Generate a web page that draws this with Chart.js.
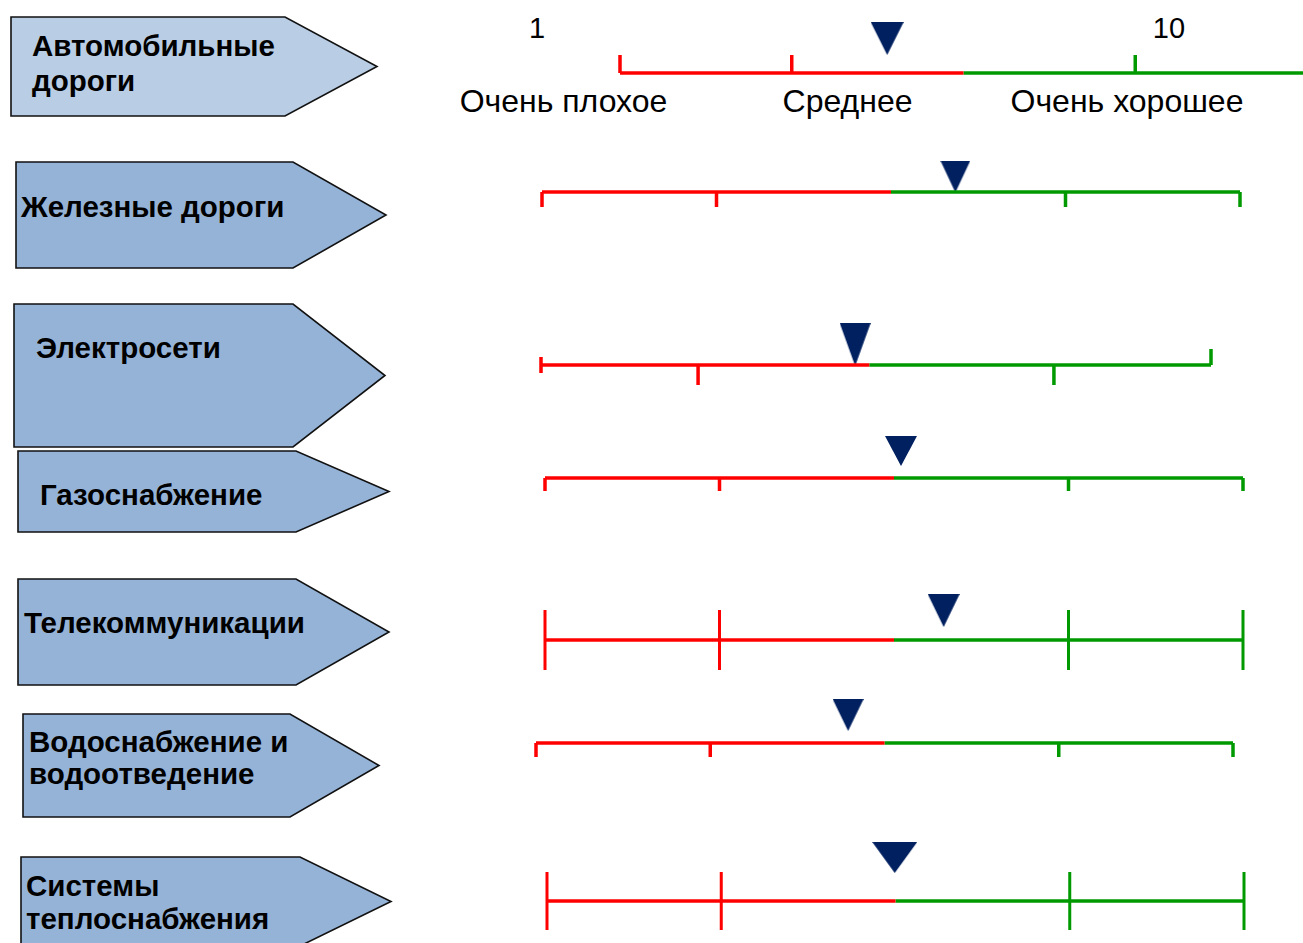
<!DOCTYPE html>
<html lang="ru">
<head>
<meta charset="UTF-8">
<title>Оценка состояния инфраструктуры</title>
<script src="https://cdn.jsdelivr.net/npm/chart.js"></script>
<style>
  html, body { margin: 0; padding: 0; background: #fff; }
  body {
    width: 1303px; height: 943px; overflow: hidden; position: relative;
    font-family: 'Liberation Sans', Arial, sans-serif; color: #000;
  }
  #arrows { position: absolute; left: 0; top: 0; }
  .label { position: absolute; font-weight: bold; font-size: 29.5px; white-space: pre; }
  .cap { position: absolute; font-size: 29px; line-height: 30px; white-space: nowrap; transform: translateX(-50%); }
  .cap.grade { font-size: 32px; }
  canvas.row { position: absolute; }
</style>
</head>
<body>
<svg id="arrows" width="1303" height="943"></svg>

<script>
// данные
const categories = [
  'Автомобильные\nдороги',
  'Железные дороги',
  'Электросети',
  'Газоснабжение',
  'Телекоммуникации',
  'Водоснабжение и\nводоотведение',
  'Системы\nтеплоснабжения'
];
const scores = [4.5, 6.33, 5.22, 5.59, 6.14, 5.03, 5.49];
const scaleMin = 1, scaleMax = 10;
const scaleTicks = [
  [1, 3.25, 7.75, 10],
  [1, 3.25, 7.75, 10],
  [1, 3.11, 7.89, 10],
  [1, 3.25, 7.75, 10],
  [1, 3.25, 7.75, 10],
  [1, 3.25, 7.75, 10],
  [1, 3.25, 7.75, 10]
];
const splitValues = [5.5, 5.5, 5.41, 5.5, 5.5, 5.5, 5.5];
const endLabels = ['1', '10'];
const gradeLabels = ['Очень плохое', 'Среднее', 'Очень хорошее'];

// раскладка
const PAD = 12, H = 140;
const RED = '#ff0000', GREEN = '#009a00', NAVY = '#002060';
const rows = [
  { start: 620, end: 1307, lineY: 73,  box: [11, 17, 285, 377, 116],  fill: '#b9cde5', tx: 32, ty: 45,  lh: 35,
    ticks: [[0, 18], [0, 18], [0, 18], [0, 18]], tw: 3.5, mw: 33, mh: 33, rise: 34.5 },
  { start: 542, end: 1240, lineY: 192, box: [16, 162, 293, 386, 268], fill: '#95b3d7', tx: 21, ty: 207, lh: 34,
    ticks: [[-15, 0], [-15, 0], [-15, 0], [-15, 0]], tw: 3.5, mw: 30, mh: 32, rise: 15.5 },
  { start: 541, end: 1211, lineY: 365, box: [14, 304, 293, 385, 447], fill: '#95b3d7', tx: 36, ty: 348, lh: 34,
    ticks: [[-8, 8], [-20, 0], [-20, 0], [0, 16]], tw: 3.5, mw: 31, mh: 43, rise: 20.5 },
  { start: 545, end: 1243, lineY: 478, box: [18, 451, 296, 389, 532], fill: '#95b3d7', tx: 40, ty: 495, lh: 34,
    ticks: [[-13, 0], [-13, 0], [-13, 0], [-13, 0]], tw: 3.5, mw: 32, mh: 30, rise: 27 },
  { start: 545, end: 1243, lineY: 640, box: [18, 579, 296, 389, 685], fill: '#95b3d7', tx: 24, ty: 623, lh: 34,
    ticks: [[-30, 30], [-30, 30], [-30, 30], [-30, 30]], tw: 3, mw: 32, mh: 33, rise: 29.5 },
  { start: 536, end: 1233, lineY: 743, box: [23, 714, 290, 379, 817], fill: '#95b3d7', tx: 29, ty: 742, lh: 32,
    ticks: [[-14, 0], [-14, 0], [-14, 0], [-14, 0]], tw: 3.5, mw: 31, mh: 32, rise: 28 },
  { start: 547, end: 1244, lineY: 901, box: [21, 857, 300, 391, 946], fill: '#95b3d7', tx: 26, ty: 885, lh: 33,
    ticks: [[-29, 29], [-29, 29], [-29, 29], [-29, 29]], tw: 3, mw: 45, mh: 31, rise: 43.5 }
];

// стрелки слева
const svg = document.getElementById('arrows');
rows.forEach(r => {
  const [x0, y0, xr, xt, y1] = r.box;
  const ym = (y0 + y1) / 2;
  const p = document.createElementNS('http://www.w3.org/2000/svg', 'polygon');
  p.setAttribute('points', `${x0},${y0} ${xr},${y0} ${xt},${ym} ${xr},${y1} ${x0},${y1}`);
  p.setAttribute('fill', r.fill);
  p.setAttribute('stroke', '#111');
  p.setAttribute('stroke-width', '1.6');
  svg.appendChild(p);
});

categories.forEach((name, i) => {
  const r = rows[i];
  const d = document.createElement('div');
  d.className = 'label';
  d.textContent = name;
  d.style.left = r.tx + 'px';
  d.style.top = (r.ty - r.lh / 2) + 'px';
  d.style.lineHeight = r.lh + 'px';
  document.body.appendChild(d);
});

// подписи шкалы сверху
function addCap(text, cx, cy, cls) {
  const d = document.createElement('div');
  d.className = 'cap' + (cls ? ' ' + cls : '');
  d.textContent = text;
  d.style.left = cx + 'px';
  d.style.top = (cy - 15) + 'px';
  document.body.appendChild(d);
}
addCap(endLabels[0], 537, 28);
addCap(endLabels[1], 1169, 28);
addCap(gradeLabels[0], 563.5, 101, 'grade');
addCap(gradeLabels[1], 847.5, 101, 'grade');
addCap(gradeLabels[2], 1127, 101, 'grade');

function markerImage(w, h) {
  const c = document.createElement('canvas');
  c.width = w; c.height = h;
  const g = c.getContext('2d');
  g.fillStyle = NAVY;
  g.beginPath();
  g.moveTo(0, 0); g.lineTo(w, 0); g.lineTo(w / 2, h); g.closePath();
  g.fill();
  return c;
}

// шкалы
rows.forEach((r, i) => {
  const cv = document.createElement('canvas');
  cv.className = 'row';
  const w = r.end - r.start + 2 * PAD;
  cv.width = w; cv.height = H;
  cv.style.left = (r.start - PAD) + 'px';
  cv.style.top = (r.lineY - H / 2) + 'px';
  document.body.appendChild(cv);

  const split = splitValues[i];
  const redTicks = [], greenTicks = [];
  scaleTicks[i].forEach((t, k) => {
    const [lo, hi] = r.ticks[k];
    const arr = t < split ? redTicks : greenTicks;
    arr.push({ x: t, y: lo }, { x: t, y: hi }, { x: t, y: null });
  });

  const seg = (data, color, bw) => ({
    data, borderColor: color, borderWidth: bw, showLine: true,
    pointRadius: 0, borderCapStyle: 'butt', clip: false
  });

  new Chart(cv, {
    type: 'scatter',
    data: {
      datasets: [
        seg([{ x: scaleMin, y: 0 }, { x: split, y: 0 }], RED, 3.5),
        seg([{ x: split, y: 0 }, { x: scaleMax, y: 0 }], GREEN, 3.5),
        seg(redTicks, RED, r.tw),
        seg(greenTicks, GREEN, r.tw),
        {
          data: [{ x: scores[i], y: r.rise }],
          pointStyle: markerImage(r.mw, r.mh),
          pointRadius: 10, clip: false
        }
      ]
    },
    options: {
      responsive: false,
      animation: false,
      events: [],
      layout: { autoPadding: false, padding: { left: PAD, right: PAD, top: 0, bottom: 0 } },
      plugins: { legend: { display: false }, tooltip: { enabled: false } },
      scales: {
        x: { type: 'linear', min: scaleMin, max: scaleMax, display: false },
        y: { type: 'linear', min: -H / 2, max: H / 2, display: false }
      }
    }
  });
});
</script>
</body>
</html>
